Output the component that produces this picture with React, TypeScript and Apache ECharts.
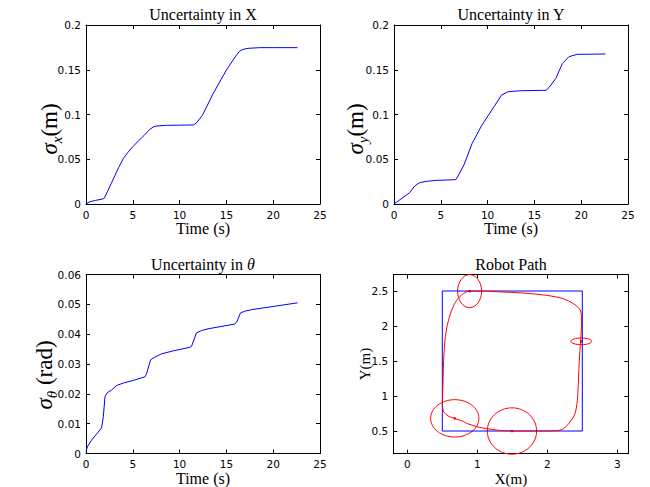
import React, { useEffect, useRef } from 'react';
import * as echarts from 'echarts';

// Uncertainty in X
const tX = [0, 0.43, 1.0, 1.78, 1.95, 2.3, 2.7, 3.1, 3.5, 4.0, 4.5, 5.05, 5.6, 6.2, 6.83, 7.2, 7.54, 8.6, 10.0, 11.45, 11.8, 12.45, 13.6, 15.0, 16.0, 16.43, 16.8, 17.3, 18.56, 20.0, 22.6];
const sigmaX = [0, 0.0026, 0.004, 0.0056, 0.0065, 0.014, 0.023, 0.032, 0.041, 0.051, 0.058, 0.0645, 0.0705, 0.0765, 0.0835, 0.0862, 0.0871, 0.0879, 0.0881, 0.0883, 0.0905, 0.0994, 0.1236, 0.1497, 0.1653, 0.171, 0.1728, 0.1739, 0.1747, 0.1747, 0.1747];

// Uncertainty in Y
const tY = [0, 1.68, 2.21, 2.73, 3.44, 4.49, 6.59, 6.77, 7.47, 8.35, 9.4, 10.45, 11.5, 12.2, 13.6, 16.23, 16.58, 17.29, 17.99, 18.69, 19.57, 22.6];
const sigmaY = [0, 0.0127, 0.0201, 0.0238, 0.0253, 0.0264, 0.0272, 0.0298, 0.0436, 0.0678, 0.0883, 0.105, 0.1218, 0.1255, 0.1266, 0.127, 0.1304, 0.1404, 0.157, 0.1646, 0.1672, 0.1676];

// Uncertainty in theta
const tTheta = [0, 0.14, 0.6, 1.49, 1.67, 1.85, 2.03, 2.28, 2.74, 3.27, 3.98, 5.05, 6.29, 6.47, 6.9, 7.36, 8.07, 9.32, 11.1, 11.27, 11.8, 12.34, 13.05, 15.9, 16.14, 16.5, 16.96, 17.67, 22.6];
const sigmaTheta = [0.0006, 0.0022, 0.0045, 0.0079, 0.0086, 0.0123, 0.0191, 0.0204, 0.0213, 0.0228, 0.0236, 0.0245, 0.0257, 0.0267, 0.0314, 0.0323, 0.0334, 0.0344, 0.0356, 0.0359, 0.0404, 0.0412, 0.0418, 0.0434, 0.0443, 0.0471, 0.0477, 0.0482, 0.0505];

// Robot path
const squareX = [0.5, 2.5, 2.5, 0.5, 0.5];
const squareY = [0.5, 0.5, 2.5, 2.5, 0.5];
const pathX = [0.678, 0.80, 0.848, 1.014, 1.277, 1.495, 1.752, 2.133, 2.229, 2.324, 2.395, 2.429, 2.443, 2.457, 2.476, 2.49, 2.486, 2.457, 2.371, 2.229, 1.99, 1.657, 1.276, 1.067, 0.89, 0.8, 0.705, 0.633, 0.571, 0.538, 0.519, 0.51, 0.503, 0.515, 0.586, 0.678];
const pathY = [0.678, 0.638, 0.61, 0.557, 0.514, 0.5, 0.5, 0.505, 0.533, 0.629, 0.748, 0.938, 1.176, 1.51, 1.786, 2.057, 2.176, 2.248, 2.319, 2.39, 2.438, 2.471, 2.49, 2.5, 2.498, 2.462, 2.367, 2.224, 2.01, 1.795, 1.51, 1.176, 0.93, 0.786, 0.714, 0.678];
const ellCX = [0.678, 1.495, 2.486, 0.89];
const ellCY = [0.681, 0.5, 1.781, 2.498];
const ellRX = [0.345, 0.352, 0.148, 0.171];
const ellRY = [0.267, 0.331, 0.048, 0.236];

const timeTicks = [0, 5, 10, 15, 20, 25];
const pathXTicks = [0, 1, 2, 3];
const pathYTicks = [0.5, 1, 1.5, 2, 2.5];

const SERIF = 'Liberation Serif';
const SANS = 'DejaVu Sans';

function axisPair(kind: 'x' | 'y', gridIndex: number, min: number, max: number, extra: any) {
  const base = {
    type: 'value',
    gridIndex,
    min,
    max,
    axisLine: { show: true, onZero: false, lineStyle: { color: '#000', width: 1 } },
    splitLine: { show: false },
  };
  const tick = { show: true, inside: true, length: 4, lineStyle: { color: '#000', width: 1 } };
  const label = { show: true, color: '#000', fontFamily: SANS, fontSize: 10.5, margin: 5 };
  const main: any = { ...base, ...extra.base, position: kind === 'x' ? 'bottom' : 'left', axisTick: { ...tick, ...(extra.tick || {}) }, axisLabel: { ...label, ...(extra.label || {}) } };
  const mirror: any = { ...base, ...extra.base, position: kind === 'x' ? 'top' : 'right', axisTick: { ...tick, ...(extra.tick || {}) }, axisLabel: { show: false } };
  return [main, mirror];
}

export default function App() {
  const ref = useRef<HTMLDivElement>(null);
  useEffect(() => {
    if (!ref.current) return;
    const chart = echarts.init(ref.current, undefined, { renderer: 'svg' });
    const grids = [
      { left: 86, top: 25, width: 234, height: 179 },
      { left: 394, top: 25, width: 234, height: 179 },
      { left: 86, top: 274.5, width: 234, height: 179 },
      { left: 393.3, top: 274.7, width: 235, height: 179 },
    ];
    const timeAxis = { base: { interval: 5 }, tick: { customValues: timeTicks }, label: { customValues: timeTicks } };
    const xAxes = [
      ...axisPair('x', 0, 0, 25, timeAxis),
      ...axisPair('x', 1, 0, 25, timeAxis),
      ...axisPair('x', 2, 0, 25, timeAxis),
      ...axisPair('x', 3, -0.2, 3.157, { tick: { customValues: pathXTicks }, label: { customValues: pathXTicks } }),
    ];
    const yAxes = [
      ...axisPair('y', 0, 0, 0.2, { base: { interval: 0.05 } }),
      ...axisPair('y', 1, 0, 0.2, { base: { interval: 0.05 } }),
      ...axisPair('y', 2, 0, 0.06, { base: { interval: 0.01 } }),
      ...axisPair('y', 3, 0.176, 2.733, { tick: { customValues: pathYTicks }, label: { customValues: pathYTicks } }),
    ];
    const blueLine = { color: '#0000ff', width: 1 };
    const redLine = { color: '#ff0000', width: 1 };
    const titleStyle = { fontFamily: SERIF, fontSize: 16, fontWeight: 'normal', fill: '#000', align: 'center', verticalAlign: 'middle' };
    const bigLabel = (text: string, rich: any) => ({
      text, rich, align: 'center', verticalAlign: 'middle', fill: '#000',
    });
    const sigmaRich = {
      s: { fontFamily: SERIF, fontStyle: 'italic', fontSize: 23, lineHeight: 30, verticalAlign: 'middle', fill: '#000' },
      sub: { fontFamily: SERIF, fontStyle: 'italic', fontSize: 15, lineHeight: 14, verticalAlign: 'bottom', fill: '#000' },
      n: { fontFamily: SERIF, fontSize: 23, lineHeight: 30, verticalAlign: 'middle', fill: '#000' },
    };
    chart.setOption({
      animation: false,
      grid: grids,
      xAxis: xAxes,
      yAxis: yAxes,
      series: [
        { type: 'line', xAxisIndex: 0, yAxisIndex: 0, data: tX.map((t, k) => [t, sigmaX[k]]), symbol: 'none', lineStyle: blueLine, silent: true },
        { type: 'line', xAxisIndex: 2, yAxisIndex: 2, data: tY.map((t, k) => [t, sigmaY[k]]), symbol: 'none', lineStyle: blueLine, silent: true },
        { type: 'line', xAxisIndex: 4, yAxisIndex: 4, data: tTheta.map((t, k) => [t, sigmaTheta[k]]), symbol: 'none', lineStyle: blueLine, silent: true },
        { type: 'line', xAxisIndex: 6, yAxisIndex: 6, data: squareX.map((x, k) => [x, squareY[k]]), symbol: 'none', lineStyle: blueLine, silent: true },
        { type: 'line', xAxisIndex: 6, yAxisIndex: 6, data: pathX.map((x, k) => [x, pathY[k]]), symbol: 'none', smooth: 0.3, lineStyle: redLine, silent: true },
        {
          type: 'custom', xAxisIndex: 6, yAxisIndex: 6, silent: true,
          encode: { x: 0, y: 1 },
          data: ellCX.map((x, k) => [x, ellCY[k], ellRX[k], ellRY[k]]),
          renderItem: (params: any, api: any) => {
            const c = api.coord([api.value(0), api.value(1)]);
            const s = api.size([api.value(2), api.value(3)]);
            return {
              type: 'group',
              children: [
                { type: 'ellipse', shape: { cx: c[0], cy: c[1], rx: s[0], ry: s[1] }, style: { fill: 'none', stroke: '#ff0000', lineWidth: 1 } },
                { type: 'circle', shape: { cx: c[0], cy: c[1], r: 1.3 }, style: { fill: '#ff0000' } },
              ],
            };
          },
        },
      ],
      graphic: [
        { type: 'text', x: 203, y: 14, style: { ...titleStyle, text: 'Uncertainty in X' } },
        { type: 'text', x: 511, y: 14, style: { ...titleStyle, text: 'Uncertainty in Y' } },
        { type: 'text', x: 203, y: 264, style: { ...titleStyle, text: 'Uncertainty in {i|θ}', rich: { i: { fontFamily: SERIF, fontStyle: 'italic', fontSize: 16, fill: '#000' } } } },
        { type: 'text', x: 511, y: 264, style: { ...titleStyle, text: 'Robot Path' } },
        { type: 'text', x: 203, y: 228.5, style: { ...titleStyle, text: 'Time (s)' } },
        { type: 'text', x: 511, y: 228.5, style: { ...titleStyle, text: 'Time (s)' } },
        { type: 'text', x: 203, y: 478, style: { ...titleStyle, text: 'Time (s)' } },
        { type: 'text', x: 511, y: 479, style: { ...titleStyle, fontSize: 15, text: 'X(m)' } },
        { type: 'text', x: 49, y: 129, rotation: Math.PI / 2, style: bigLabel('{s|σ}{sub|x}{n|(m)}', sigmaRich) },
        { type: 'text', x: 355, y: 129, rotation: Math.PI / 2, style: bigLabel('{s|σ}{sub|y}{n|(m)}', sigmaRich) },
        { type: 'text', x: 44, y: 375, rotation: Math.PI / 2, style: bigLabel('{s|σ}{sub|θ}{n| (rad)}', sigmaRich) },
        { type: 'text', x: 365, y: 364, rotation: Math.PI / 2, style: { ...titleStyle, fontSize: 15, text: 'Y(m)' } },
      ],
    });
    return () => chart.dispose();
  }, []);
  return <div ref={ref} style={{ position: 'fixed', left: 0, top: 0, width: 650, height: 487, background: '#fff' }} />;
}
